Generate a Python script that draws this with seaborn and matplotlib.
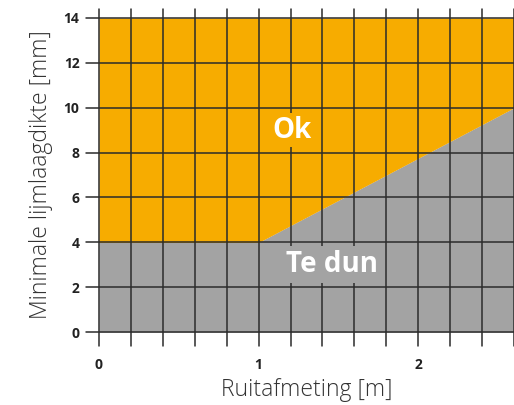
import matplotlib
matplotlib.use('Agg')
import matplotlib.pyplot as plt
import seaborn as sns
import numpy as np
import pandas as pd

# boundary of minimal glue-layer thickness
pane_size = [0.0, 1.0, 2.6]
min_thickness = [4.0, 4.0, 10.0]
y_top = 14
x_major = [0, 1, 2]
y_major = [0, 2, 4, 6, 8, 10, 12, 14]
x_minor = np.round(np.arange(0, 2.61, 0.2), 1)

orange = "#F7AC00"
grey = "#A3A3A3"
line_col = "#2b2b2b"

sns.set_style("white")
plt.rcParams['font.family'] = ['Open Sans', 'DejaVu Sans']

df = pd.DataFrame({"x": pane_size, "y": min_thickness})

fig = plt.figure(figsize=(5.14, 4.05), dpi=100)
ax = fig.add_axes([0.1926, 0.180, 0.8074, 0.7756])

ax.fill_between(df["x"], 0, df["y"], color=grey, lw=0, zorder=1)
ax.fill_between(df["x"], df["y"], y_top, color=orange, lw=0, zorder=1)
sns.lineplot(data=df, x="x", y="y", color=orange, lw=0.6, ax=ax, zorder=1)

ax.set_xlim(0, 2.6)
ax.set_ylim(0, y_top)

# grid
for xv in x_minor:
    ax.axvline(xv, color=line_col, lw=1.1, zorder=2, clip_on=False, ymin=-0.045, ymax=1.03)
for yv in y_major:
    ax.axhline(yv, color=line_col, lw=1.1, zorder=2, clip_on=False, xmin=-0.032, xmax=1)

for s in ax.spines.values():
    s.set_visible(False)

ax.set_xticks(x_major)
ax.set_xticklabels([str(v) for v in x_major], fontweight='bold', fontsize=10, color="#222222")
ax.set_yticks(y_major)
ax.set_yticklabels([str(v) for v in y_major], fontweight='bold', fontsize=10, color="#222222")
ax.tick_params(axis='x', length=0, pad=19)
ax.tick_params(axis='y', length=0, pad=14)

ax.set_xlabel("Ruitafmeting [m]", fontsize=16.5, color="#333333", fontweight='light', labelpad=4)
ax.set_ylabel("Minimale lijmlaagdikte [mm]", fontsize=16.5, color="#333333", fontweight='light', labelpad=8)

ax.text(1.21, 9.0, "Ok", color="white", fontsize=20, fontweight='bold', ha='center', va='center',
        zorder=3, bbox=dict(facecolor=orange, edgecolor='none', pad=2))
ax.text(1.46, 3.0, "Te dun", color="white", fontsize=20, fontweight='bold', ha='center', va='center',
        zorder=3, bbox=dict(facecolor=grey, edgecolor='none', pad=3))

fig.savefig("out.png", dpi=100)
